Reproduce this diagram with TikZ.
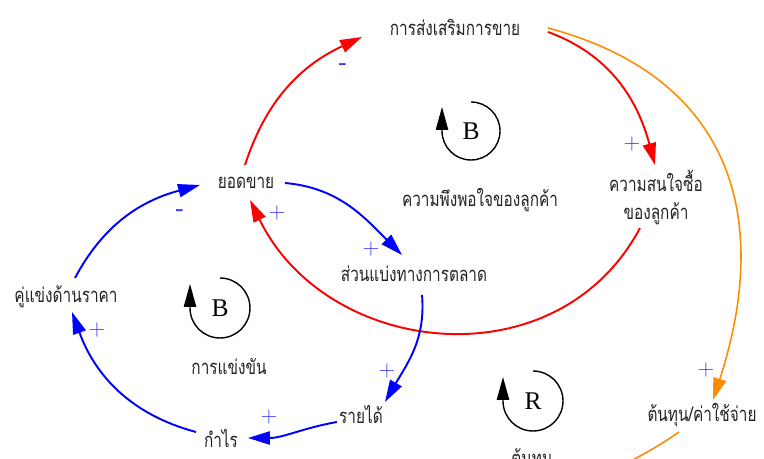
\documentclass[tikz,border=0pt]{standalone}
\usepackage{fontspec}
\newfontfamily\thaifont[Script=Thai,FakeStretch=0.76]{Loma}
\newfontfamily\loopfont{Liberation Serif}
\usetikzlibrary{arrows.meta}
\definecolor{LinkRed}{RGB}{255,0,0}
\definecolor{LinkBlue}{RGB}{0,0,255}
\definecolor{LinkOrange}{RGB}{255,140,0}
\definecolor{SignBlue}{RGB}{60,60,255}
\definecolor{TextGray}{RGB}{35,35,35}

\begin{document}
\begin{tikzpicture}[x=0.02cm,y=0.02cm,
    var/.style={font=\thaifont\fontsize{11.5}{16}\selectfont,text=TextGray,
                inner sep=0pt,align=center},
    sign/.style={font=\fontsize{12.5}{12}\selectfont,text=SignBlue,inner sep=0pt},
    loopname/.style={font=\loopfont\fontsize{14.5}{16}\selectfont,inner sep=0pt},
    link/.style={-{Triangle[length=12.5pt,width=7.5pt]},line width=1.1pt},
    loopline/.style={-{Triangle[length=13pt,width=7pt]},line width=0.8pt,black}
  ]
  \useasboundingbox (0,0) rectangle (764,-459);
  \clip (0,0) rectangle (764,-459);
  % variables
  \node[var] (promo)    at (455,-27)  {การส่งเสริมการขาย};
  \node[var] (sales)    at (246,-183) {ยอดขาย};
  \node[var] (satisf)   at (480,-200) {ความพึงพอใจของลูกค้า};
  \node[var] (interest) at (656,-197) {ความสนใจซื้อ\\ของลูกค้า};
  \node[var] (share)    at (414,-274) {ส่วนแบ่งทางการตลาด};
  \node[var] (rival)    at (66,-297)  {คู่แข่งด้านราคา};
  \node[var] (compet)   at (229,-366) {การแข่งขัน};
  \node[var] (revenue)  at (361,-414) {รายได้};
  \node[var] (profit)   at (221,-438) {กำไร};
  \node[var] (cost)     at (702,-415) {ต้นทุน/ค่าใช้จ่าย};
  \node[var] (rlabel)   at (532,-460) {ต้นทุน};
  \coordinate (costout) at (600,-478);
  % loop markers
  \node[loopname] (b1) at (471,-131) {B};
  \node[loopname] (b2) at (220,-308) {B};
  \node[loopname] (r1) at (533,-401) {R};
  \draw[loopline] ([shift={(90:29)}]b1.center) arc[start angle=90,end angle=-180,radius=29] -- ++(0,24);
  \draw[loopline] ([shift={(90:30)}]b2.center) arc[start angle=90,end angle=-180,radius=30] -- ++(0,24);
  \draw[loopline] ([shift={(90:30)}]r1.center) arc[start angle=90,end angle=-180,radius=30] -- ++(0,24);
  % red links
  \draw[link,LinkRed] ([shift={(-1,18)}]sales.center) to[out=72,in=205] ([shift={(-93,-10)}]promo.center);
  \draw[link,LinkRed] ([shift={(93,-5)}]promo.center) to[out=-20,in=105] ([shift={(-1,32)}]interest.center);
  \draw[link,LinkRed] ([shift={(-16,-31)}]interest.center) to[out=-118,in=-64,looseness=1.15] ([shift={(4,-17)}]sales.center);
  % orange links
  \draw[link,LinkOrange,line width=0.9pt] ([shift={(93,-1)}]promo.center) to[out=-15,in=72,looseness=1.2] ([shift={(11,15)}]cost.center);
  \draw[LinkOrange,line width=0.9pt] ([shift={(-23,-17)}]cost.center) to[out=-145,in=30] (costout);
  % blue links
  \draw[link,LinkBlue] ([shift={(39,0)}]sales.center) to[out=-5,in=135] ([shift={(-12,19)}]share.center);
  \draw[link,LinkBlue] ([shift={(8,-21)}]share.center) to[out=-85,in=60] ([shift={(24,12)}]revenue.center);
  \draw[link,LinkBlue] ([shift={(-24,-8)}]revenue.center) to[out=190,in=0] ([shift={(27,0)}]profit.center);
  \draw[link,LinkBlue] ([shift={(-25,6)}]profit.center) to[out=165,in=-70] ([shift={(6,-15)}]rival.center);
  \draw[link,LinkBlue] ([shift={(9,19)}]rival.center) to[out=62,in=195] ([shift={(-46,-2)}]sales.center);
  % polarity signs
  \node[sign] (s1) at (343,-67)  {\bfseries -};
  \node[sign] (s2) at (632,-144) {+};
  \node[sign] (s3) at (277,-213) {+};
  \node[sign] (s4) at (706,-370) {+};
  \node[sign] (s5) at (371,-249) {+};
  \node[sign] (s6) at (387,-371) {+};
  \node[sign] (s7) at (269,-417) {+};
  \node[sign] (s8) at (97,-330)  {+};
  \node[sign] (s9) at (180,-213) {\bfseries -};
\end{tikzpicture}
\end{document}
